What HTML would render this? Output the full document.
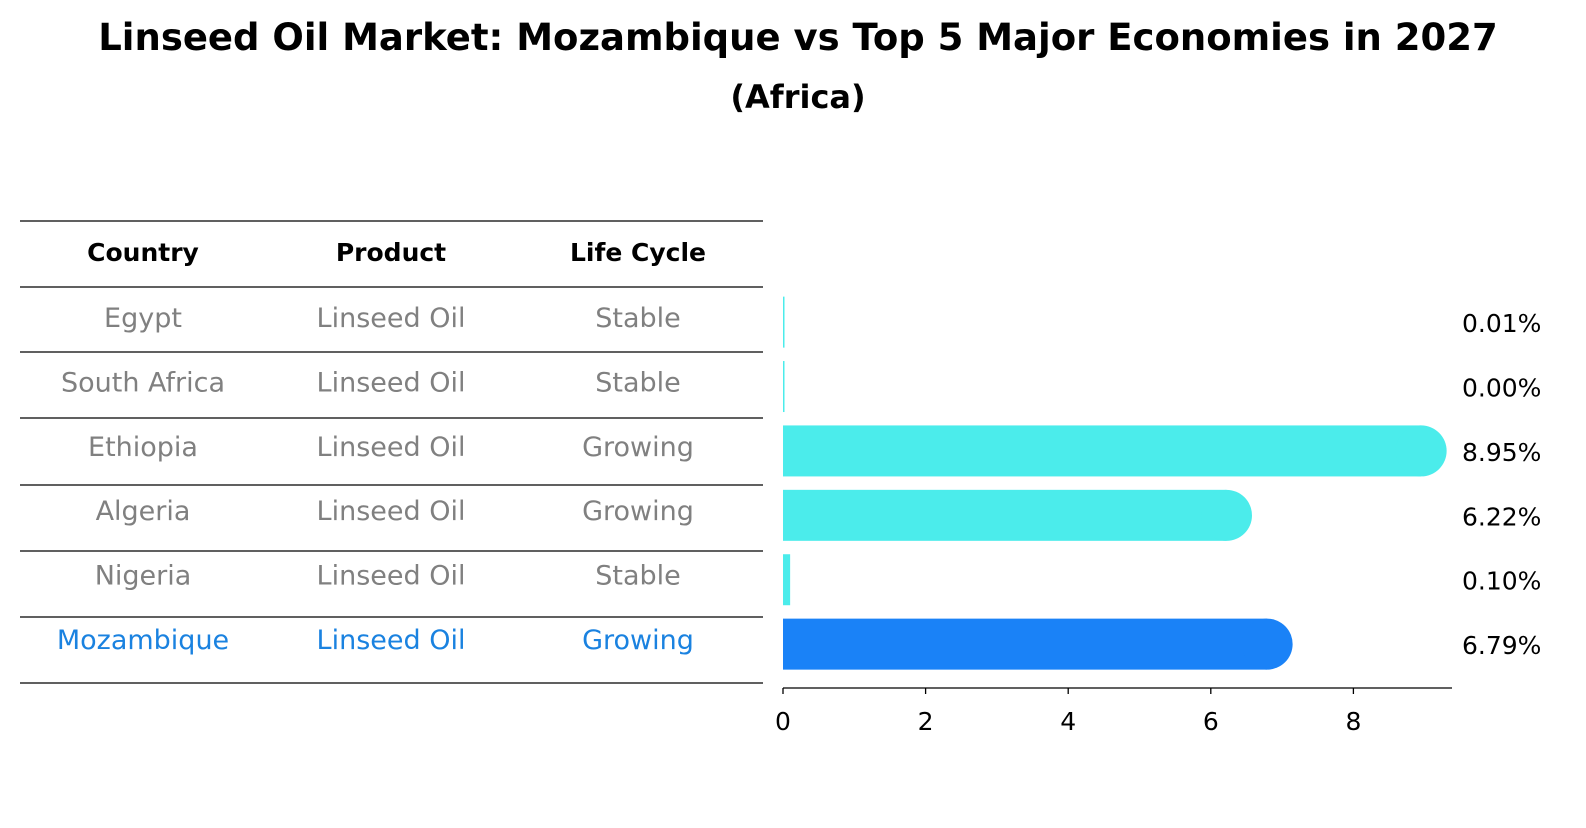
<!DOCTYPE html>
<html><head><meta charset="utf-8"><style>
body{margin:0;background:#fff;font-family:"Liberation Sans","DejaVu Sans",sans-serif;}
svg text{font-family:"DejaVu Sans","Liberation Sans",sans-serif;}
</style></head><body>
<svg width="1586" height="823" viewBox="0 0 1586 823" xmlns="http://www.w3.org/2000/svg">
<text x="798" y="50" text-anchor="middle" font-size="37" font-weight="bold">Linseed Oil Market: Mozambique vs Top 5 Major Economies in 2027</text>
<text x="798" y="108" text-anchor="middle" font-size="32" font-weight="bold">(Africa)</text>
<g id="table"></g>
<g id="bars"></g>
</svg>
<script>
const countries=["Egypt","South Africa","Ethiopia","Algeria","Nigeria","Mozambique"];
const products=["Linseed Oil","Linseed Oil","Linseed Oil","Linseed Oil","Linseed Oil","Linseed Oil"];
const lifeCycles=["Stable","Stable","Growing","Growing","Stable","Growing"];
const shares=[0.01,0.00,8.95,6.22,0.10,6.79];
const ticks=[0,2,4,6,8];
const NS="http://www.w3.org/2000/svg";
function mk(tag,attrs,parent,txt){const e=document.createElementNS(NS,tag);for(const k in attrs)e.setAttribute(k,attrs[k]);if(txt!==undefined)e.textContent=txt;parent.appendChild(e);return e;}
const tbl=document.getElementById('table'),bars=document.getElementById('bars');
const lineYs=[221,287,352,418,485,551,617,683];
const colX=[143,391,638];
lineYs.forEach(y=>{const l=mk('line',{x1:20,x2:763,y1:y,y2:y,stroke:'#000','stroke-width':1.2},tbl);

});
["Country","Product","Life Cycle"].forEach((h,i)=>{const t=mk('text',{x:colX[i],y:261,'text-anchor':'middle','font-size':25,'font-weight':'bold'},tbl,h);

});
const x0=783,sx=71.3;
const X=v=>x0+v*sx;
const rowY=i=>322+i*64.4;
countries.forEach((c,i)=>{
 const hl=i===countries.length-1;const col=hl?'#1a82e0':'#808080';
 [c,products[i],lifeCycles[i]].forEach((v,j)=>{const t=mk('text',{x:colX[j],y:rowY(i)+5,'text-anchor':'middle','font-size':27,fill:col},tbl,v);
 
 });
 const w=Math.max(X(shares[i])-x0,1.5);const cy=rowY(i)+128/1000;const h=51;
 const fill=hl?'#1a82f7':'#4beceb';
 const g=mk('g',{},bars);
 
 
 mk('rect',{x:x0,y:cy-h/2,width:w,height:h,fill:fill},g);
 if(w>25)mk('circle',{cx:x0+w,cy:cy,r:h/2,fill:fill},g);
 const t=mk('text',{x:1462,y:cy+10,'font-size':25},bars,shares[i].toFixed(2)+'%');
 
 
});
const ax=mk('line',{x1:x0,x2:1452,y1:688,y2:688,stroke:'#000','stroke-width':1.3},bars);


ticks.forEach(v=>{mk('line',{x1:X(v),x2:X(v),y1:688,y2:694,stroke:'#000','stroke-width':1.3},bars);
 const t=mk('text',{x:X(v),y:730,'text-anchor':'middle','font-size':25},bars,String(v));
 
 });
</script>
</body></html>
